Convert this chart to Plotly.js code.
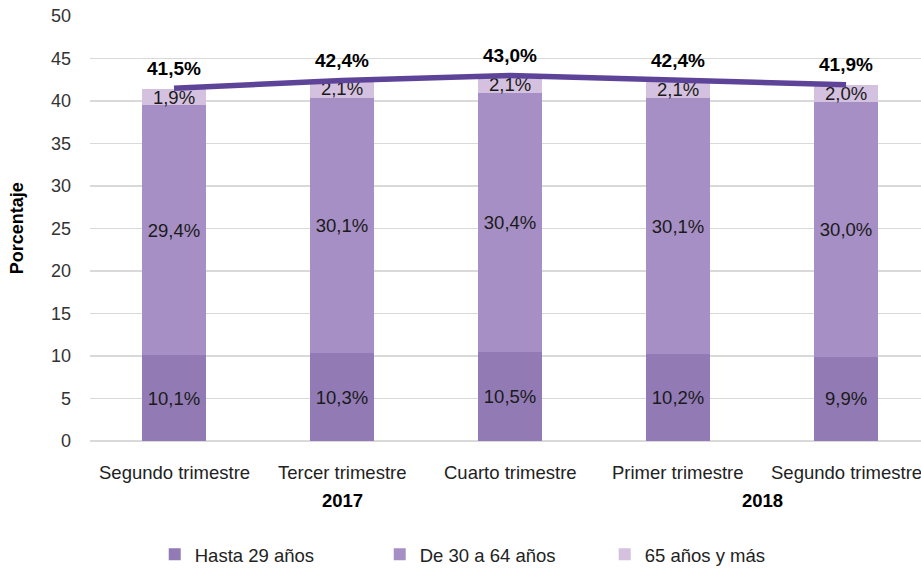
<!DOCTYPE html>
<html>
<head>
<meta charset="utf-8">
<script src="https://cdn.plot.ly/plotly-3.0.1.min.js"></script>
<style>
  body { margin: 0; background: #fff; }
  #chart { width: 921px; height: 572px; }
</style>
</head>
<body>
<div id="chart"></div>
<script>
var trimestres = ['Segundo trimestre', 'Tercer trimestre', 'Cuarto trimestre', 'Primer trimestre', 'Segundo trimestre'];
var anios = ['2017', '2018'];
var hasta29 = [10.1, 10.3, 10.5, 10.2, 9.9];
var de30a64 = [29.4, 30.1, 30.4, 30.1, 30.0];
var mas65 = [1.9, 2.1, 2.1, 2.1, 2.0];
var total = [41.5, 42.4, 43.0, 42.4, 41.9];

function pct(v) {
    return v.toFixed(1).replace('.', ',') + '%';
}

var fuente = 'Liberation Sans, Arial, sans-serif';
var xs = [0, 1, 2, 3, 4];

function barTrace(name, vals, color) {
    return {
        type: 'bar',
        name: name,
        x: xs,
        y: vals,
        width: 0.38,
        marker: {color: color},
        text: vals.map(pct),
        textposition: 'inside',
        insidetextanchor: 'middle',
        constraintext: 'none',
        textfont: {family: fuente, size: 18.5, color: '#1a1a1a'},
        hoverinfo: 'none'
    };
}

var traces = [
    barTrace('Hasta 29 años', hasta29, '#927bb5'),
    barTrace('De 30 a 64 años', de30a64, '#a68fc4'),
    barTrace('65 años y más', mas65, '#d4c1df'),
    {
        type: 'scatter',
        mode: 'lines',
        x: xs,
        y: total,
        line: {color: '#5d4499', width: 5.5},
        showlegend: false,
        hoverinfo: 'none',
        cliponaxis: false
    }
];

// etiquetas del total, un poco por encima de la linea
var etiquetas = total.map(function (v, i) {
    return {
        text: '<b>' + pct(v) + '</b>',
        xref: 'x', yref: 'y',
        x: xs[i], y: v,
        yanchor: 'middle',
        yshift: 20,
        showarrow: false,
        font: {family: fuente, size: 19, color: '#000'}
    };
});

// nombres de trimestre bajo el eje (el ultimo queda cortado en el borde)
var etiquetasX = trimestres.map(function (t, i) {
    return {
        text: t,
        xref: 'x', yref: 'paper',
        x: xs[i], y: -0.073,
        yanchor: 'middle',
        showarrow: false,
        font: {family: fuente, size: 18.5, color: '#222'}
    };
});

var layout = {
    width: 921,
    height: 572,
    barmode: 'stack',
    paper_bgcolor: '#fff',
    plot_bgcolor: '#fff',
    font: {family: fuente, size: 18, color: '#333'},
    margin: {l: 90, r: 0, t: 16, b: 131},
    xaxis: {
        range: [-0.5, 4.446],
        showticklabels: false,
        showgrid: false,
        zeroline: false,
        showline: false,
        ticks: '',
        automargin: false
    },
    yaxis: {
        range: [0, 50],
        dtick: 5,
        gridcolor: '#d9d9d9',
        gridwidth: 1.5,
        zeroline: true,
        zerolinecolor: '#d9d9d9',
        zerolinewidth: 1.5,
        showline: false,
        ticks: '',
        ticklabelstandoff: 18,
        automargin: false,
        tickfont: {family: fuente, size: 18, color: '#333'}
    },
    showlegend: true,
    legend: {
        orientation: 'h',
        xref: 'container',
        yref: 'container',
        x: 0.168,
        xanchor: 'left',
        y: 0.03,
        yanchor: 'middle',
        entrywidth: 180,
        entrywidthmode: 'pixels',
        traceorder: 'normal',
        font: {family: fuente, size: 18.5, color: '#222'}
    },
    annotations: etiquetas.concat(etiquetasX, [
        {
            text: '<b>Porcentaje</b>',
            xref: 'paper', yref: 'paper',
            x: -0.088, y: 0.5,
            xanchor: 'center', yanchor: 'middle',
            textangle: -90,
            showarrow: false,
            font: {family: fuente, size: 18, color: '#000'}
        },
        {
            text: '<b>' + anios[0] + '</b>',
            xref: 'x', yref: 'paper',
            x: 1, y: -0.139,
            yanchor: 'middle',
            showarrow: false,
            font: {family: fuente, size: 18.5, color: '#000'}
        },
        {
            text: '<b>' + anios[1] + '</b>',
            xref: 'x', yref: 'paper',
            x: 3.5, y: -0.139,
            yanchor: 'middle',
            showarrow: false,
            font: {family: fuente, size: 18.5, color: '#000'}
        }
    ])
};

Plotly.newPlot('chart', traces, layout, {displayModeBar: false, staticPlot: true});
</script>
</body>
</html>
